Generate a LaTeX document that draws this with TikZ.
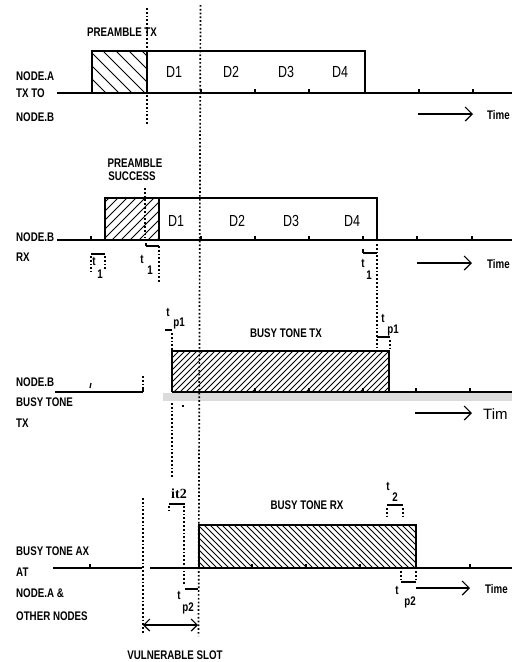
\documentclass[tikz,border=0pt]{standalone}
\usepackage{fontspec}
\setmainfont{Liberation Sans}
\newfontfamily\plotfont[FakeStretch=0.78]{Liberation Sans}
\newfontfamily\seriffont{Liberation Serif}
\usetikzlibrary{arrows.meta}
\begin{document}
\begin{tikzpicture}[x=1pt,y=-1pt,
  base/.style={line width=1.2pt},
  hatch/.style={line width=0.9pt},
  dots/.style={line width=1.7pt, dash pattern=on 1.7pt off 2.1pt},
  lbl/.style={font=\plotfont\bfseries\fontsize{12.5}{13}\selectfont, inner sep=0pt},
  dlbl/.style={font=\plotfont\fontsize{16}{17}\selectfont, inner sep=0pt},
  sub/.style={font=\plotfont\bfseries\fontsize{12.5}{13}\selectfont, inner sep=0pt},
  timearrow/.style={line width=1.1pt, -{Straight Barb[length=7pt,width=14pt,line width=1.2pt]}},
]
\useasboundingbox (0,0) rectangle (512,662);

% ================= Panel 1 : NODE.A TX TO NODE.B =================
\node[lbl, anchor=west] (l1a) at (16,76) {NODE.A};
\node[lbl, anchor=west] (l1b) at (16,93) {TX TO};
\node[lbl, anchor=west] (l1c) at (16,117) {NODE.B};
\node[lbl] (pre1) at (122,32) {PREAMBLE TX};
\begin{scope}
  \clip (92,51) rectangle (147,93);
  \foreach \i in {-40,-27,...,150} \draw[hatch] (\i,51) -- ++(42,42);
\end{scope}
\draw[base] (57,93) -- (512,93);
\draw[base] (92,93) -- (92,51) -- (365,51) -- (365,93);
\draw[base] (147,51) -- (147,93);
\foreach \x in {201,255,309,419,473} \draw[base] (\x,93) -- ++(0,-4);
\node[dlbl] (d11) at (174,72) {D1};
\node[dlbl] (d12) at (231,72) {D2};
\node[dlbl] (d13) at (286,72) {D3};
\node[dlbl] (d14) at (340,72) {D4};
\coordinate (ta1) at (418,114);
\coordinate (tb1) at (473,114);
\draw[timearrow] (ta1) -- (tb1);
\node[lbl, anchor=west] (time1) at (487,115) {Time};
\draw[dots] (147,8) -- (147,124);

% ================= Panel 2 : NODE.B RX =================
\node[lbl, anchor=west] (l2a) at (16,237) {NODE.B};
\node[lbl, anchor=west] (l2b) at (16,257) {RX};
\node[lbl] (pre2a) at (135,163) {PREAMBLE};
\node[lbl] (pre2b) at (132,176) {SUCCESS};
\begin{scope}
  \clip (105,198) rectangle (159,240);
  \foreach \i in {40,49,...,170} \draw[hatch] (\i,240) -- ++(42,-42);
\end{scope}
\draw[base] (57,240) -- (512,240);
\draw[base] (105,240) -- (105,198) -- (377,198) -- (377,240);
\draw[base] (159,198) -- (159,240);
\foreach \x in {91,201,255,309,363,417,472} \draw[base] (\x,240) -- ++(0,-4);
\node[dlbl] (d21) at (176,221) {D1};
\node[dlbl] (d22) at (237,221) {D2};
\node[dlbl] (d23) at (291,221) {D3};
\node[dlbl] (d24) at (352,221) {D4};
\draw[dots] (145,188) -- (145,238);
% t1 left
\draw[base] (91,254) -- (105,254);
\draw[dots] (91,256) -- (91,272);
\draw[dots] (105,256) -- (105,270);
\node[sub] (t1a) at (94,261) {t};
\node[sub] (t1as) at (100,274) {1};
% t1 middle
\draw[base] (146,246) -- (159,246);
\draw[base] (146,243) -- (146,246);
\draw[dots] (159,246) -- (159,282);
\node[sub] (t1b) at (142,259) {t};
\node[sub] (t1bs) at (150,270) {1};
% t1 right
\draw[base] (363,253) -- (377,253);
\draw[base] (363,249) -- (363,253);
\draw[dots] (377,244) -- (377,350);
\node[sub] (t1c) at (363,263) {t};
\node[sub] (t1cs) at (369,275) {1};
\coordinate (ta2) at (417,263);
\coordinate (tb2) at (472,263);
\draw[timearrow] (ta2) -- (tb2);
\node[lbl, anchor=west] (time2) at (487,264) {Time};

% ================= Panel 3 : NODE.B BUSY TONE TX =================
\node[lbl, anchor=west] (l3a) at (16,382) {NODE.B};
\node[lbl, anchor=west] (l3b) at (16,402) {BUSY TONE};
\node[lbl, anchor=west] (l3c) at (16,423) {TX};
\node[lbl] (bt3) at (286,333) {BUSY TONE TX};
\fill[gray!28] (163,393) rectangle (512,401);
\begin{scope}
  \clip (172,351) rectangle (389,392);
  \foreach \i in {120,126,...,400} \draw[hatch] (\i,392) -- ++(41,-41);
\end{scope}
\draw[base] (55,392) -- (143,392);
\draw[base] (172,392) -- (512,392);
\draw[base] (172,392) -- (172,351) -- (389,351) -- (389,392);
\foreach \x in {143,255,309,363,416,470} \draw[base] (\x,392) -- ++(0,-4);
\draw[dots] (143,376) -- (143,388);
\draw[base] (91,383) -- (90,388);
% t_p1 left
\draw[base] (165,330) -- (172,330);
\draw[dots] (172,333) -- (172,350);
\node[sub] (tp1a) at (168,312) {t};
\node[sub] (tp1as) at (179,323) {p1};
% t_p1 right
\draw[base] (377,337) -- (390,337);
\draw[dots] (390,340) -- (390,350);
\node[sub] (tp1b) at (383,318) {t};
\node[sub] (tp1bs) at (393,330) {p1};
\draw[dots] (172,403) -- (172,477);
\fill (181.5,404.5) rectangle ++(2,2);
\coordinate (ta3) at (415,413);
\coordinate (tb3) at (472,413);
\draw[timearrow] (ta3) -- (tb3);
\node[anchor=west, inner sep=0pt, font=\fontsize{15}{16}\selectfont] (time3) at (483,414) {Tim};

% ================= Panel 4 : BUSY TONE RX =================
\node[lbl, anchor=west] (l4a) at (16,551) {BUSY TONE AX};
\node[lbl, anchor=west] (l4b) at (16,572) {AT};
\node[lbl, anchor=west] (l4c) at (16,593) {NODE.A \&};
\node[lbl, anchor=west] (l4d) at (16,616) {OTHER NODES};
\node[lbl] (bt4) at (307,505) {BUSY TONE RX};
\begin{scope}
  \clip (199,525) rectangle (416,568);
  \foreach \i in {150,156,...,420} \draw[hatch] (\i,525) -- ++(43,43);
\end{scope}
\draw[base] (53,568) -- (142,568);
\draw[base] (150,568) -- (512,568);
\draw[base] (199,568) -- (199,525) -- (416,525) -- (416,568);
\foreach \x in {90,252,306,360,470} \draw[base] (\x,568) -- ++(0,-4);
% t2 left
\node[font=\seriffont\bfseries\fontsize{14}{15}\selectfont, inner sep=0pt] (it2) at (179,494) {it2};
\draw[base] (169,504) -- (185,504);
\draw[dots] (169,506) -- (169,510);
\draw[dots] (184,506) -- (184,584);
% t_p2 left
\draw[base] (185,589) -- (198,589);
\node[sub] (tp2a) at (179,595) {t};
\node[sub] (tp2as) at (188,608) {p2};
% vulnerable slot
\draw[dots] (143,498) -- (143,634);
\coordinate (vs1) at (143,625);
\coordinate (vs2) at (198,625);
\draw[line width=1.1pt, {Straight Barb[length=6pt,width=12pt,line width=1.2pt]}-{Straight Barb[length=6pt,width=12pt,line width=1.2pt]}] (vs1) -- (vs2);
\node[lbl] (vuln) at (175,655) {VULNERABLE SLOT};
% t2 right
\node[sub] (t2r) at (388,486) {t};
\node[sub] (t2rs) at (395,497) {2};
\draw[base] (387,505) -- (403,505);
\draw[dots] (387,508) -- (387,518);
\draw[dots] (403,508) -- (403,518);
% t_p2 right
\draw[base] (401,582) -- (416,582);
\draw[dots] (401,571) -- (401,580);
\draw[dots] (416,571) -- (416,580);
\node[sub] (tp2b) at (397,590) {t};
\node[sub] (tp2bs) at (410,602) {p2};
\coordinate (ta4) at (416,588);
\coordinate (tb4) at (470,588);
\draw[timearrow] (ta4) -- (tb4);
\node[lbl, anchor=west] (time4) at (485,589) {Time};

% ================= long dotted line =================
\draw[dots] (200.5,5) -- (198.5,636);
\end{tikzpicture}
\end{document}
